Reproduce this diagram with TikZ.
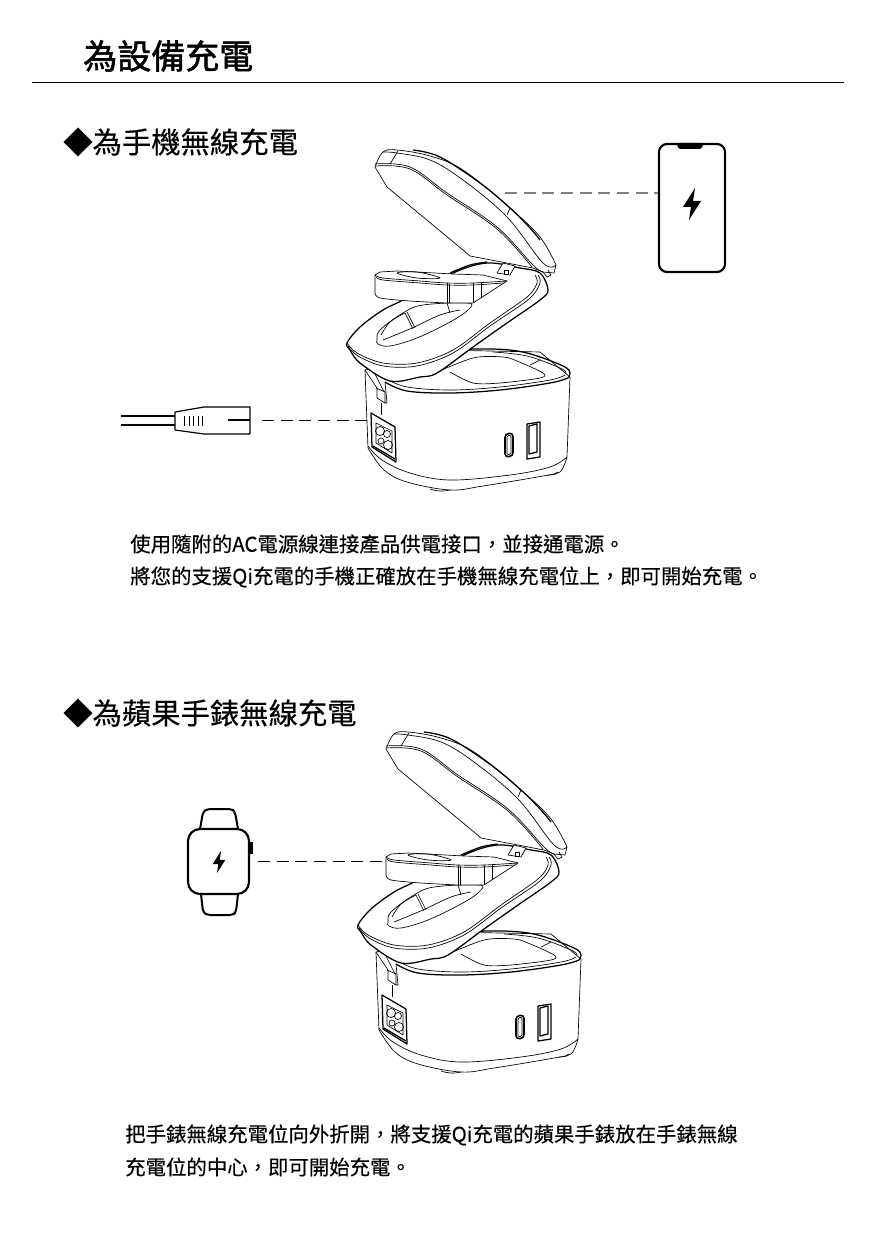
\documentclass[tikz,border=0pt]{standalone}
\usepackage{fontspec}
\setmainfont{Noto Sans CJK TC}
\newfontfamily\titlefont{Noto Sans CJK TC}[FakeBold=1.6]
\newfontfamily\headfont{Noto Sans CJK TC}[FakeBold=0.3]
\newfontfamily\bodyfont{Noto Sans CJK TC}[FakeBold=0.3]
\newcommand{\widecomma}{\char"FF0C\relax}
\begin{document}
\begin{tikzpicture}[x=0.75pt,y=-0.75pt]
	\tikzset{heading/.style={inner sep=0pt,
				anchor=west,
				font=\headfont\fontsize{22}{26}\selectfont},
			bodytext/.style={inner sep=0pt,
				anchor=west,
				font=\bodyfont\fontsize{15.3}{18}\selectfont},
			device/.style={draw,
				rectangle,
				line width=1.6pt,
				inner sep=0pt},
			dashline/.style={line width=0.7pt,
				dash pattern=on 9pt off 5pt},
			thin part/.style={line width=0.5pt,
				line join=round},
			thick part/.style={line width=0.95pt,
				line join=round},
			charger/.pic={
				% Base
				\draw[thin part,fill=white] (365,370) -- (368,448)
					-- plot[smooth,tension=0.6] coordinates {(368,448) (384,470) (407,482) (450,490) (483,486) (543,476) (560,472) (567,457)}
					-- (570,377) -- (540,352) -- (440,350) -- cycle;
				\draw[thin part] plot[smooth,tension=0.6] coordinates {(368,446) (382,460) (410,473) (450,480) (510,475) (550,467) (567,457)};
				\draw[thin part] (430,489) to[bend right=15] (450,490);
				\draw[thin part] (548,475) to[bend right=15] (558,472);
				\draw[thick part] plot[smooth,tension=0.6] coordinates {(447,350) (493,349) (527,353) (563,366) (570,373) (568,378)};
				\draw[thin part] plot[smooth,tension=0.6] coordinates {(493,352) (527,356) (560,368) (566,373)};
				\draw[thick part] plot[smooth,tension=0.6] coordinates {(385,382) (407,391) (450,393) (500,390) (550,383) (568,378)};
				\draw[thin part] plot[smooth,tension=0.6] coordinates {(387,379) (407,387) (450,390) (500,387) (550,380) (565,375)};
				\draw[thin part] plot[smooth,tension=0.5] coordinates {(430,375) (473,358) (503,357) (517,361) (543,373) (540,378) (500,383) (473,383) (450,372)};
				\draw[thin part] (530,365) -- (540,360);
				% Socket and ports
				\draw[thick part,fill=white] (371,413) -- (395,427) -- (396,462) -- (372,447) -- cycle;
				\draw[thick part] (373,446) -- (395,459);
				\draw[thin part] (376,423) -- (392,431) -- (392,453) -- (376,443) -- cycle;
				\draw[thin part] (380,431) circle[radius=4.5];
				\draw[thin part] (388,445) circle[radius=4.5];
				\draw[thin part] (387,434) circle[radius=3.5];
				\draw[thin part] (381,441) circle[radius=3];
				\draw[line width=1.2pt,rounded corners=2.5pt] (505,434) -- (513,433) -- (513,456) -- (505,457) -- cycle;
				\draw[thin part,rounded corners=1pt] (507,436) -- (511,435) -- (511,454) -- (507,455) -- cycle;
				\draw[thick part] (527,424) -- (540,422) -- (540,457) -- (527,459) -- cycle;
				\draw[thick part] (529,426) -- (537,424) -- (537,452) -- (529,454) -- cycle;
				% Hinge at the back
				\draw[thin part] (365,370) -- (377,388) -- (377,398) -- (385,403) -- (385,392) -- (376,388);
				\draw[thin part] (373,370) -- (383,390) -- (385,392);
				\draw[thin part] (385,382) -- (387,403) -- (385,403);
				\draw[thin part] (381,403) -- (381,415);
				% Tray
				\draw[thick part,fill=white] plot[smooth cycle,tension=0.55] coordinates {(347,343) (360,327) (383,310) (403,300) (453,273) (487,263) (520,268) (540,273) (548,290) (540,300) (507,323) (473,347) (437,373) (420,377) (390,381) (360,363) (350,350)};
				\draw[thin part] plot[smooth,tension=0.55] coordinates {(347,343) (357,353) (383,363) (417,363) (453,350) (490,323) (527,297) (537,283) (535,275)};
				\draw[thin part] plot[smooth,tension=0.55] coordinates {(348,346) (358,356) (383,366) (417,366) (453,353) (490,326) (529,299) (540,283) (538,275)};
				\draw[thin part,fill=white] plot[smooth cycle,tension=0.6] coordinates {(377,340) (380,330) (403,313) (423,305) (468,303) (468,310) (450,322) (417,338) (390,346) (378,344)};
				\draw[thin part] plot[smooth,tension=0.6] coordinates {(383,340) (412,328) (440,315) (460,310)};
				\draw[thin part] plot[smooth,tension=0.6] coordinates {(381,335) (390,322) (405,313)};
				\draw[thin part] (405,313) -- (413,329);
				\draw[thin part] (407,312) -- (415,328);
				\draw[thin part] (447,303) -- (450,313);
				% Inner hinge
				\draw[thin part,fill=white] (497,273) -- (503,263) -- (515,266) -- (510,275) -- cycle;
				\draw[thin part] (504,270) rectangle (508,274);
				\draw[thick part] plot[smooth,tension=0.5] coordinates {(450,273) (470,265) (487,262)};
				% Watch ring
				\draw[thin part,fill=white] (375,275) -- (380,272) -- (397,271) -- (453,274) -- (483,275) -- (507,281) -- (473,303) -- (447,303) -- plot[smooth,tension=0.5] coordinates {(447,303) (410,301) (380,298) (375,293)} -- cycle;
				\draw[thin part] plot[smooth,tension=0.5] coordinates {(375,275) (383,278) (420,281) (447,283) (473,283) (507,281)};
				\draw[thin part] plot[smooth,tension=0.5] coordinates {(376,277) (383,280) (420,283) (447,285) (473,285) (503,283)};
				\draw[thin part] plot[smooth cycle,tension=0.6] coordinates {(397,273) (417,272) (440,278) (417,278)};
				\draw[thin part] (447,283) -- (447,303);
				\draw[thin part] (449,284) -- (449,303);
				\draw[thin part] (473,283) -- (473,303);
				\draw[thin part] (481,282) -- (481,298);
				% Lid
				\draw[thin part,fill=white] (375,167) -- plot[smooth,tension=0.6] coordinates {(375,167) (383,152) (397,150) (430,156) (463,170) (510,208) (540,237) (556,265)}
					-- (554,273) -- (543,272) -- (533,268) -- (470,256) -- (463,250) -- (387,187) -- cycle;
				\draw[thin part] plot[smooth,tension=0.6] coordinates {(375,164) (410,167) (447,193) (497,227) (533,265) (543,272)};
				\draw[thin part] plot[smooth,tension=0.6] coordinates {(376,166) (410,169) (447,195) (497,229) (532,267)};
				\draw[thin part] plot[smooth,tension=0.6] coordinates {(383,152) (397,153) (430,160) (463,180) (507,217) (543,263) (556,265)};
				\draw[thick part] plot[smooth,tension=0.6] coordinates {(413,150) (440,157) (480,183) (510,208) (530,228) (540,240)};
				\draw[thin part] (390,164) -- (398,151);
				\draw[thin part] (510,208) -- (507,215);
				\draw[thin part] (543,272) -- (547,277) -- (551,275) -- (548,270);
			},
			bolt/.pic={
				\fill (3,-16) -- (-9,3) -- (-1,3) -- (-3,16) -- (9,-3) -- (1,-3) -- cycle;
			}}
	\useasboundingbox (0,0) rectangle (875,1241);
	% Title
	\node[inner sep=0pt,anchor=west,font=\titlefont\fontsize{25.5}{30}\selectfont] (title) at (83,56) {為設備充電};
	\coordinate (ruleleft) at (32,83);
	\coordinate (ruleright) at (844,83);
	\draw[line width=0.75pt] (ruleleft) -- (ruleright);
	
	% Nodes
	\node[heading] (phonehead) at (63,142) {◆為手機無線充電};
	\node[heading] (watchhead) at (63,713) {◆為蘋果手錶無線充電};
	\node[bodytext] (phoneone) at (130,544) {使用隨附的AC電源線連接產品供電接口\widecomma 並接通電源。};
	\node[bodytext] (phonetwo) at (130,577) {將您的支援Qi充電的手機正確放在手機無線充電位上\widecomma 即可開始充電。};
	\node[bodytext] (watchone) at (125,1135) {把手錶無線充電位向外折開\widecomma 將支援Qi充電的蘋果手錶放在手錶無線};
	\node[bodytext] (watchtwo) at (125,1167) {充電位的中心\widecomma 即可開始充電。};
	
	\pic at (0,0) {charger};
	\pic at (11,582) {charger};
	
	% Phone
	\node[device,rounded corners=6pt,minimum width=49.5pt,minimum height=96pt] (phone) at (692,208) {};
	\fill[rounded corners=2pt] (677,143) -- (703,143) -- (702,149) -- (678,149) -- cycle;
	\pic at (692,204) {bolt};
	
	% Watch
	\draw[line width=1.5pt,rounded corners=2.5pt,line join=round] (200,829) -- (203,812) -- (207,809) -- (232,809) -- (235,812) -- (238,829);
	\draw[line width=1.5pt,rounded corners=2.5pt,line join=round] (201,894) -- (203,912) -- (207,915) -- (233,915) -- (236,912) -- (238,894);
	\node[device,rounded corners=9pt,minimum width=45.75pt,minimum height=48.75pt] (watch) at (218.5,861.5) {};
	\fill (249,842) rectangle (253,854);
	\pic[scale=0.7] at (219,862) {bolt};
	
	% Plug
	\coordinate (cabletopa) at (121,416);
	\coordinate (cabletopb) at (175,416);
	\coordinate (cablelowa) at (121,425);
	\coordinate (cablelowb) at (175,425);
	\draw[line width=0.9pt] (cabletopa) -- (cabletopb);
	\draw[line width=0.9pt] (cablelowa) -- (cablelowb);
	\draw[line width=0.9pt,line join=round] (175,412) -- (204,407) -- (250,407) -- (250,434) -- (204,434) -- (175,430) -- cycle;
	\foreach \tickx in {184,189,193,198,202} {
		\draw[line width=0.6pt] (\tickx,416) -- (\tickx,426);
	}
	\coordinate (plugline) at (228,420);
	\coordinate (plugend) at (250,420);
	\draw[line width=0.9pt] (plugline) -- (plugend);
	
	% Arrows
	\coordinate (lidback) at (505,193);
	\coordinate (plugdash) at (262,420);
	\coordinate (socketdash) at (368,420);
	\coordinate (ringdash) at (388,861);
	\draw[dashline,gray,line width=0.9pt] (lidback) -- (lidback -| phone.west);
	\draw[dashline] (plugdash) -- (socketdash);
	\draw[dashline] ([xshift=6pt]watch.east |- ringdash) -- (ringdash);
\end{tikzpicture}
\end{document}
